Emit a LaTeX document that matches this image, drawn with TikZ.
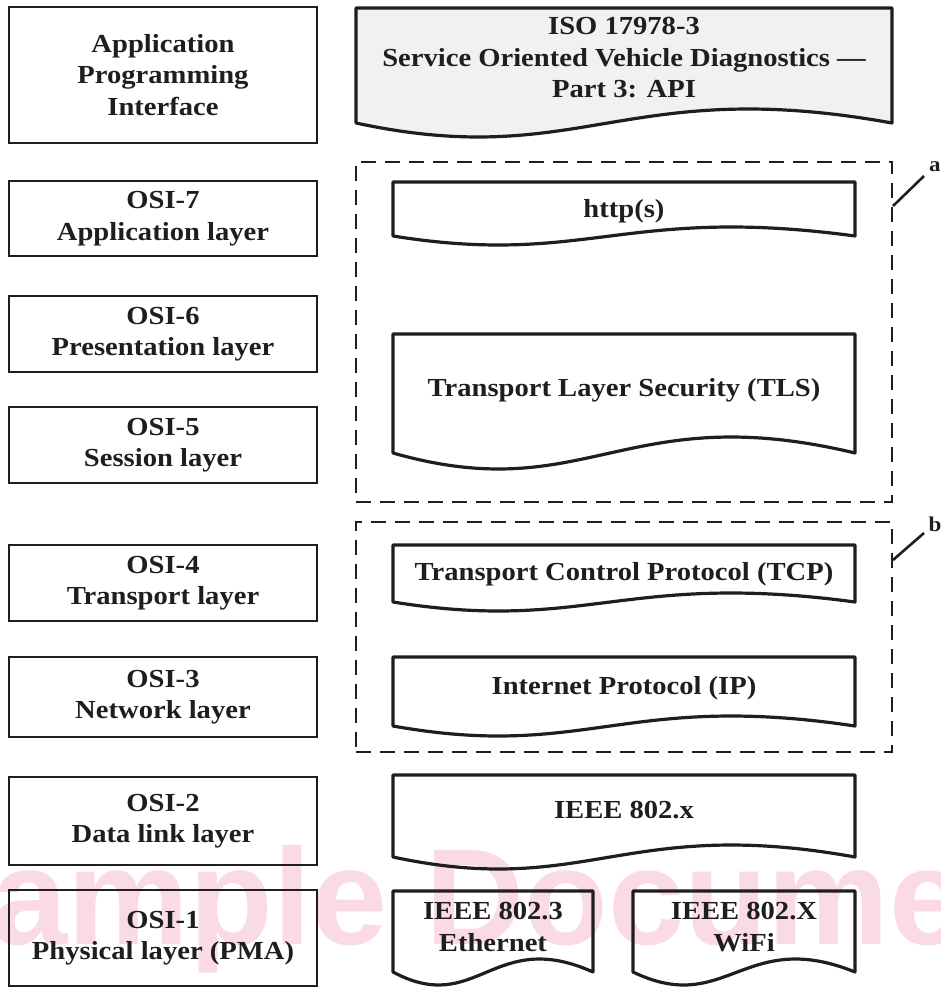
\documentclass[tikz,border=0pt]{standalone}
\usepackage{fontspec}
\setmainfont{Liberation Serif}[FakeStretch=1.1]
\newfontfamily\wmfont{Liberation Sans}
\usetikzlibrary{calc}
\definecolor{isofill}{RGB}{240,241,243}
\definecolor{wmpink}{RGB}{249,218,230}
\definecolor{ink}{RGB}{30,30,30}
\newcommand{\mydoc}[6][]{%
  \draw[docline,#1] (#2,#5) -- (#2,#3) -- (#4,#3) -- (#4,#5)
    .. controls ({#2+0.5*(#4-#2)},{#5-3.46*#6}) and ({#2+0.42*(#4-#2)},{#5+3.46*#6}) .. (#2,#5) -- cycle;}
\tikzset{
  txt/.style={font=\bfseries\fontsize{26}{31.5}\selectfont, text=ink, align=center, inner sep=0pt},
  layerbox/.style={txt, draw=ink, line width=2.6pt, minimum width=308pt},
  docline/.style={draw=ink, line width=3.2pt, line join=round},
  dashbox/.style={draw=ink, line width=2.6pt, dash pattern=on 15pt off 9pt, minimum width=536pt, inner sep=0pt},
  lab/.style={font=\bfseries\fontsize{21}{21}\selectfont, text=ink, inner sep=0pt},
  leader/.style={draw=ink, line width=2.6pt}
}
\begin{document}
\begin{tikzpicture}[x=1pt,y=-1pt]
\path[use as bounding box] (0,0) rectangle (941,987);
% watermark
\begin{scope}
  \clip (0,0) rectangle (941,987);
  \node[anchor=base west, text=wmpink, font=\wmfont\bfseries\fontsize{137}{137}\selectfont, inner sep=0pt] (wm) at (-100,944) {Sample Document};
\end{scope}
% left column
\node[layerbox, minimum height=136pt] (api) at (163,75) {Application\\Programming\\Interface};
\node[layerbox, minimum height=75pt] (osi7) at (163,218.5) {OSI-7\\Application layer};
\node[layerbox, minimum height=76pt] (osi6) at (163,334) {OSI-6\\Presentation layer};
\node[layerbox, minimum height=76pt] (osi5) at (163,445) {OSI-5\\Session layer};
\node[layerbox, minimum height=76pt] (osi4) at (163,583) {OSI-4\\Transport layer};
\node[layerbox, minimum height=80pt] (osi3) at (163,697) {OSI-3\\Network layer};
\node[layerbox, minimum height=88pt] (osi2) at (163,821) {OSI-2\\Data link layer};
\node[layerbox, minimum height=96pt] (osi1) at (163,938) {OSI-1\\Physical layer (PMA)};
% dashed groups
\node[dashbox, minimum height=340pt] (grpA) at (624,332) {};
\node[dashbox, minimum height=230pt] (grpB) at (624,637) {};
% document shapes
\mydoc[fill=isofill]{356}{8}{892}{123}{14}
\mydoc{393}{182}{855}{236}{9}
\mydoc{393}{334}{855}{453}{16}
\mydoc{393}{545}{855}{602}{9}
\mydoc{393}{657}{855}{726}{10}
\mydoc{393}{775}{855}{857}{12}
\mydoc{393}{891}{593}{972}{13}
\mydoc{633}{891}{855}{972}{13}
% texts of document shapes
\node[txt] (iso) at (624,58) {ISO 17978-3\\Service Oriented Vehicle Diagnostics ---\\Part 3: API};
\node[txt] (http) at (624,211) {http(s)};
\node[txt] (tls) at (624,390) {Transport Layer Security (TLS)};
\node[txt] (tcp) at (624,574) {Transport Control Protocol (TCP)};
\node[txt] (ip) at (624,688) {Internet Protocol (IP)};
\node[txt] (ieee) at (624,810) {IEEE 802.x};
\node[txt] (eth) at (493,927) {IEEE 802.3\\Ethernet};
\node[txt] (wifi) at (744,927) {IEEE 802.X\\WiFi};
% keys
\node[lab] (la) at (935,167) {a};
\node[lab] (lb) at (935,524) {b};
\coordinate (aS) at (893,206);
\coordinate (aE) at (924,176);
\coordinate (bS) at (893,560);
\coordinate (bE) at (924,533);
\draw[leader] (aS) -- (aE);
\draw[leader] (bS) -- (bE);
\end{tikzpicture}
\end{document}
